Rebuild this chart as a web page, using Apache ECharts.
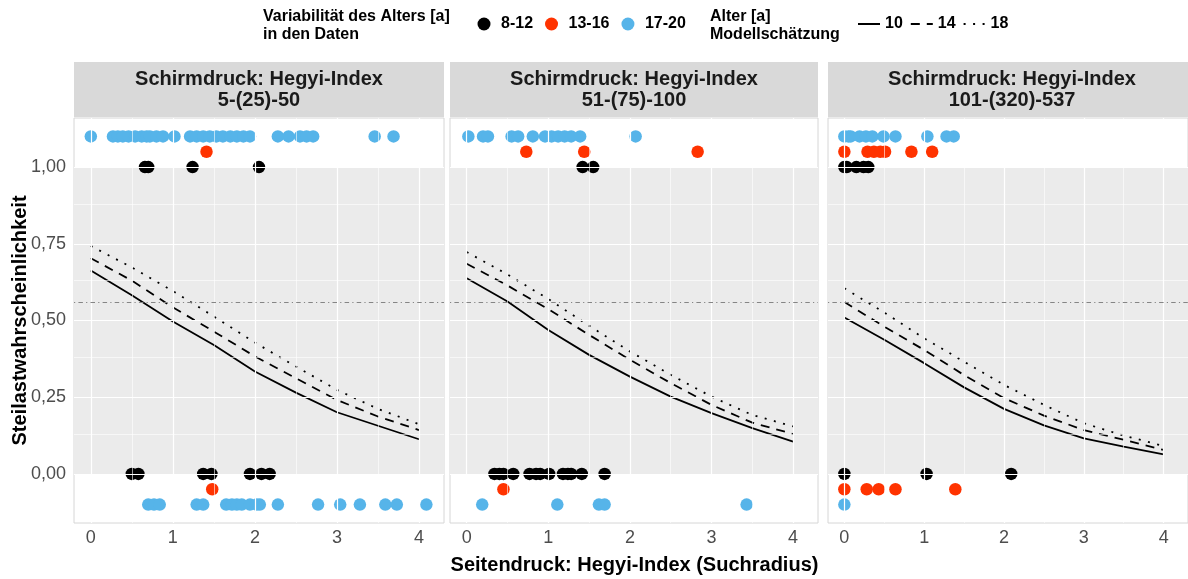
<!DOCTYPE html>
<html><head><meta charset="utf-8">
<script src="https://cdn.jsdelivr.net/npm/echarts@6/dist/echarts.min.js"></script>
<style>html,body{margin:0;padding:0;background:#fff}#c{width:1188px;height:579px}</style>
</head><body><div id="c"></div>
<script>
// ---------- data ----------
const panelTitles = [
  'Schirmdruck: Hegyi-Index\n5-(25)-50',
  'Schirmdruck: Hegyi-Index\n51-(75)-100',
  'Schirmdruck: Hegyi-Index\n101-(320)-537'
];
const groupNames = ['8-12', '13-16', '17-20'];
const groupColors = ['#000000', '#FF3300', '#56B4E9'];
const groupLevelTop = [1.0, 1.05, 1.1];      // displayed level for "steil" (1)
const groupLevelBottom = [0.0, -0.05, -0.1]; // displayed level for "nicht steil" (0)

const ageNames = ['10', '14', '18'];
const lineX = [0, 0.5, 1, 1.5, 2, 2.5, 3, 3.5, 4];

// model estimates per panel (rows: age 10, 14, 18)
const fitPanel1 = [
  [0.663, 0.582, 0.497, 0.420, 0.334, 0.265, 0.201, 0.157, 0.113],
  [0.703, 0.630, 0.543, 0.464, 0.383, 0.312, 0.241, 0.187, 0.143],
  [0.743, 0.673, 0.596, 0.513, 0.428, 0.350, 0.274, 0.212, 0.162]
];
const fitPanel2 = [
  [0.638, 0.562, 0.469, 0.388, 0.317, 0.252, 0.198, 0.149, 0.105],
  [0.685, 0.614, 0.537, 0.453, 0.372, 0.296, 0.225, 0.167, 0.130],
  [0.723, 0.650, 0.570, 0.483, 0.399, 0.323, 0.252, 0.192, 0.155]
];
const fitPanel3 = [
  [0.510, 0.437, 0.361, 0.282, 0.212, 0.158, 0.116, 0.089, 0.064],
  [0.560, 0.480, 0.404, 0.322, 0.247, 0.190, 0.143, 0.111, 0.078],
  [0.605, 0.526, 0.442, 0.366, 0.290, 0.225, 0.165, 0.125, 0.091]
];
const threshold = 0.56;

// observed points: x positions (Seitendruck) per group, top = 1, bottom = 0
const p1Top = [
  [0.66, 0.70, 1.24, 2.05],
  [1.41],
  [0.00, 0.27, 0.33, 0.39, 0.46, 0.54, 0.62, 0.68, 0.72, 0.80, 0.88, 1.02, 1.21, 1.29, 1.37, 1.45, 1.53, 1.61, 1.70, 1.78, 1.86, 1.94, 2.28, 2.41, 2.55, 2.63, 2.71, 3.46, 3.69]
];
const p1Bottom = [
  [0.50, 0.58, 1.37, 1.47, 1.94, 2.08, 2.18],
  [1.48],
  [0.70, 0.77, 0.84, 1.29, 1.37, 1.65, 1.72, 1.78, 1.84, 1.94, 2.02, 2.06, 2.28, 2.77, 3.04, 3.28, 3.59, 3.73, 4.09]
];
const p2Top = [
  [1.42, 1.55],
  [0.73, 1.44, 2.83],
  [0.02, 0.20, 0.26, 0.55, 0.63, 0.81, 0.96, 1.04, 1.12, 1.20, 1.28, 1.39, 2.07]
];
const p2Bottom = [
  [0.34, 0.40, 0.45, 0.57, 0.77, 0.85, 0.90, 1.01, 1.18, 1.24, 1.28, 1.41, 1.69],
  [0.45],
  [0.19, 1.11, 1.62, 1.69, 3.43]
];
const p3Top = [
  [0.00, 0.03, 0.15, 0.24, 0.30],
  [0.00, 0.29, 0.37, 0.45, 0.51, 0.84, 1.10],
  [0.00, 0.05, 0.08, 0.19, 0.27, 0.35, 0.49, 0.64, 1.04, 1.28, 1.37]
];
const p3Bottom = [
  [0.00, 1.03, 2.09],
  [0.00, 0.28, 0.43, 0.64, 1.39],
  [0.00]
];

const xTicks = [0, 1, 2, 3, 4];
const xMinor = [0.5, 1.5, 2.5, 3.5];
const yTicks = [0, 0.25, 0.5, 0.75, 1];
const yMinor = [0.125, 0.375, 0.625, 0.875];

// ---------- layout ----------
const FONT = '"Liberation Sans", Arial, Helvetica, sans-serif';
const GRIDS = [{left: 74, width: 370}, {left: 450, width: 368}, {left: 828, width: 368}];
const GTOP = 118, GHEIGHT = 405;
const STRIP_TOP = 62, STRIP_H = 55;

const fits = [fitPanel1, fitPanel2, fitPanel3];
const tops = [p1Top, p2Top, p3Top];
const bottoms = [p1Bottom, p2Bottom, p3Bottom];
const dashTypes = ['solid', [9, 7], [2, 7.5]];

const grid = [], xAxis = [], yAxis = [], series = [], graphic = [];

GRIDS.forEach((g, i) => {
  grid.push({left: g.left, width: g.width, top: GTOP, height: GHEIGHT, show: true,
    backgroundColor: 'transparent', borderColor: '#D6D6D6', borderWidth: 1, containLabel: false});
  xAxis.push({type: 'value', gridIndex: i, min: -0.205, max: 4.305,
    axisLine: {show: false},
    axisTick: {show: true, customValues: xTicks, length: 4, lineStyle: {color: '#333333', width: 1}},
    axisLabel: {show: true, customValues: xTicks, color: '#4D4D4D', fontSize: 18, fontFamily: FONT, margin: 6},
    splitLine: {show: false}});
  yAxis.push({type: 'value', gridIndex: i, min: -0.16, max: 1.16,
    axisLine: {show: false},
    axisTick: {show: i === 0, customValues: yTicks, length: 4, lineStyle: {color: '#333333', width: 1}},
    axisLabel: {show: i === 0, customValues: yTicks, color: '#4D4D4D', fontSize: 18, fontFamily: FONT, margin: 8,
      formatter: v => v.toFixed(2).replace('.', ',')},
    splitLine: {show: false}});

  // grey panel area between 0 and 1
  series.push({type: 'line', xAxisIndex: i, yAxisIndex: i, data: [], z: -2, silent: true,
    markArea: {silent: true, itemStyle: {color: '#EBEBEB'}, data: [[{yAxis: 0}, {yAxis: 1}]]}});
  // white grid lines
  const gl = [];
  xTicks.forEach(v => gl.push({xAxis: v, lineStyle: {width: 1.2}}));
  xMinor.forEach(v => gl.push({xAxis: v, lineStyle: {width: 0.6}}));
  yTicks.forEach(v => gl.push({yAxis: v, lineStyle: {width: 1.2}}));
  yMinor.forEach(v => gl.push({yAxis: v, lineStyle: {width: 0.6}}));
  series.push({type: 'line', xAxisIndex: i, yAxisIndex: i, data: [], z: -1, silent: true,
    markLine: {silent: true, symbol: ['none', 'none'], label: {show: false},
      lineStyle: {color: '#FFFFFF', type: 'solid'}, data: gl}});

  // model lines
  ageNames.forEach((name, k) => {
    const s = {type: 'line', name: name, xAxisIndex: i, yAxisIndex: i,
      data: lineX.map((x, j) => [x, fits[i][k][j]]),
      symbol: 'none', showSymbol: false, z: 3,
      lineStyle: {color: '#000000', width: 1.8, type: dashTypes[k]},
      itemStyle: {color: '#000000'}};
    if (k === 0) {
      s.markLine = {silent: true, symbol: ['none', 'none'], label: {show: false},
        lineStyle: {color: '#858585', width: 1, type: [1.2, 3.2, 4.5, 3.2]},
        data: [{yAxis: threshold}]};
    }
    series.push(s);
  });

  // observed points
  groupNames.forEach((name, gi) => {
    const data = tops[i][gi].map(x => [x, groupLevelTop[gi]])
      .concat(bottoms[i][gi].map(x => [x, groupLevelBottom[gi]]));
    series.push({type: 'scatter', name: name, xAxisIndex: i, yAxisIndex: i, data: data,
      symbol: 'circle', symbolSize: 12.5, z: 4, itemStyle: {color: groupColors[gi], opacity: 1}});
  });

  // facet strip
  graphic.push({type: 'rect', shape: {x: g.left, y: STRIP_TOP, width: g.width, height: STRIP_H},
    style: {fill: '#D9D9D9'}, silent: true});
  graphic.push({type: 'text', x: g.left + g.width / 2, y: STRIP_TOP + STRIP_H / 2 + 0.5, silent: true,
    style: {text: panelTitles[i], fill: '#1A1A1A', font: 'bold 20px ' + FONT, align: 'center',
      verticalAlign: 'middle', lineHeight: 21}});
});

// axis titles
graphic.push({type: 'text', x: 634.5, y: 565, silent: true,
  style: {text: 'Seitendruck: Hegyi-Index (Suchradius)', fill: '#000', font: 'bold 20px ' + FONT,
    align: 'center', verticalAlign: 'middle'}});
graphic.push({type: 'text', x: 20, y: 320.5, rotation: Math.PI / 2, silent: true,
  style: {text: 'Steilastwahrscheinlichkeit', fill: '#000', font: 'bold 20px ' + FONT,
    align: 'center', verticalAlign: 'middle'}});
// legend titles
graphic.push({type: 'text', x: 263, y: 8, silent: true,
  style: {text: 'Variabilität des Alters [a]\nin den Daten', fill: '#000', font: 'bold 16px ' + FONT,
    align: 'left', verticalAlign: 'top', lineHeight: 18}});
graphic.push({type: 'text', x: 710, y: 8, silent: true,
  style: {text: 'Alter [a]\nModellschätzung', fill: '#000', font: 'bold 16px ' + FONT,
    align: 'left', verticalAlign: 'top', lineHeight: 18}});

const option = {
  backgroundColor: '#FFFFFF',
  animation: false,
  grid, xAxis, yAxis, series, graphic,
  legend: [
    {data: groupNames, left: 477.5, top: 16, padding: 0, icon: 'circle', itemWidth: 24, itemHeight: 13,
      itemGap: 12, selectedMode: false,
      textStyle: {fontSize: 16, fontWeight: 'bold', color: '#000', fontFamily: FONT}},
    {data: ageNames, left: 857, top: 16, padding: 0, itemWidth: 22, itemHeight: 14, itemGap: 7,
      selectedMode: false, itemStyle: {opacity: 0, borderWidth: 0},
      textStyle: {fontSize: 16, fontWeight: 'bold', color: '#000', fontFamily: FONT}}
  ]
};
const chart = echarts.init(document.getElementById('c'), null, {renderer: 'canvas'});
chart.setOption(option);
</script></body></html>
